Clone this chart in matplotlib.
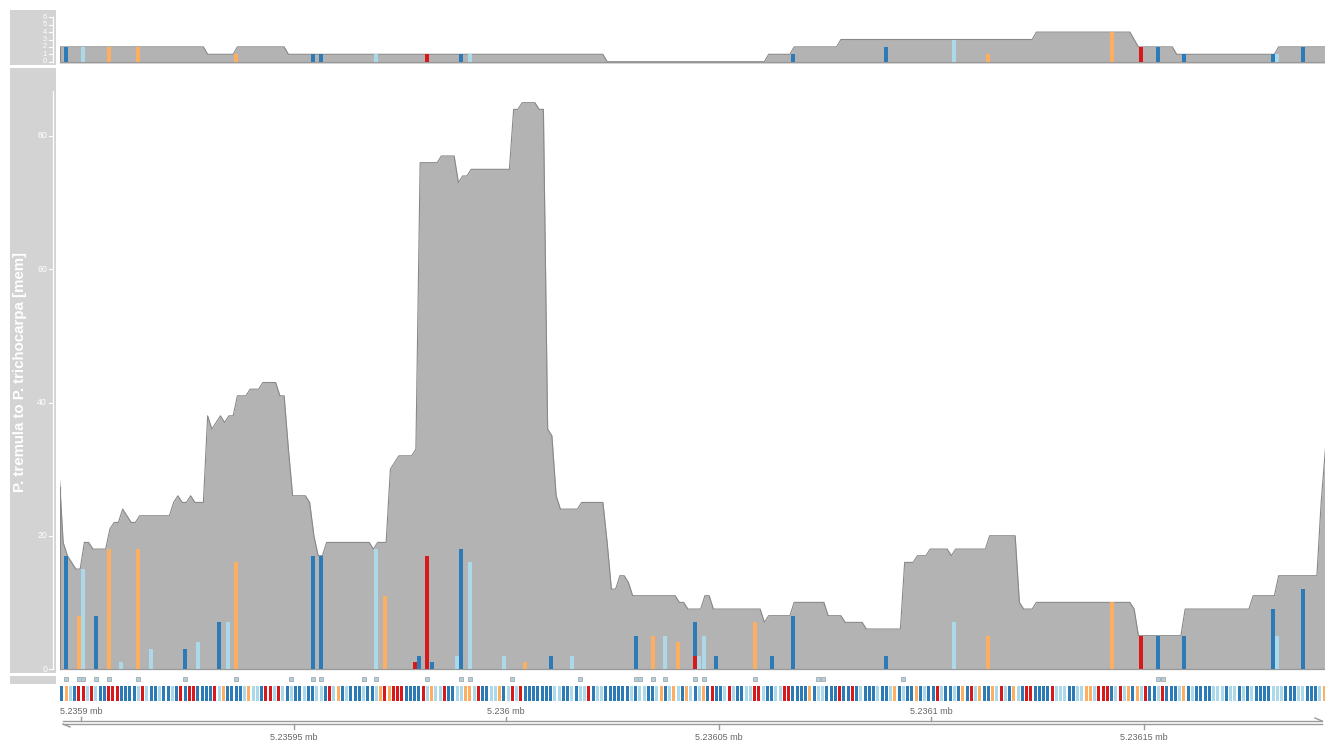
import numpy as np
import matplotlib
matplotlib.use("Agg")
import matplotlib.pyplot as plt
from matplotlib.patches import Rectangle
from matplotlib import transforms

plt.rcParams['font.family'] = ['Liberation Sans', 'DejaVu Sans']

# ---------------- data ----------------
region_start = 5235895          # first plotted base
n_bases = 298

# main coverage (P. tremula to P. trichocarpa), run-length: base offset where a value starts
main_cov_start = [-1, 0, 1, 2, 3, 5, 7, 11, 12, 14, 15, 16, 18, 26, 27, 28, 30, 31, 34, 35, 36, 37, 38, 39,
                  41, 44, 47, 51, 53, 54, 58, 59, 60, 62, 73, 74, 77, 78, 79, 83, 84, 89, 93, 94, 96, 106,
                  108, 112, 114, 115, 116, 117, 122, 128, 129, 131, 133, 134, 145, 147, 151, 153, 165, 166,
                  172, 180, 184, 189, 198, 201, 204, 209, 210, 218, 225, 226, 229, 252, 253, 264, 280, 286,
                  296, 297]
main_cov_value = [30, 19, 17, 16, 15, 19, 18, 21, 22, 24, 23, 22, 23, 25, 26, 25, 26, 25, 38, 36, 37, 38, 37, 38,
                  41, 42, 43, 41, 33, 26, 25, 20, 17, 19, 18, 19, 30, 31, 32, 33, 76, 77, 73, 74, 75, 84,
                  85, 84, 36, 35, 26, 24, 25, 19, 12, 14, 13, 11, 10, 9, 11, 9, 7, 8,
                  10, 8, 7, 6, 16, 17, 18, 17, 18, 20, 10, 9, 10, 9, 5, 9, 11, 14,
                  25, 33]

# top (small) coverage track
top_cov_start = [-1, 34, 41, 53, 128, 166, 172, 183, 229, 252, 253, 262, 286]
top_cov_value = [2, 1, 2, 1, 0, 1, 2, 3, 4, 3, 2, 1, 2]

# mismatching bases (offset, base, count in main track, count in top track)
mm_pos = [1, 4, 5, 8, 11, 14, 18, 21, 29, 32, 37, 39, 41, 59, 61, 74, 76, 83, 84, 86, 87, 93, 94, 96, 104,
          109, 115, 120, 135, 139, 142, 145, 149, 149, 150, 151, 154, 163, 167, 172, 194, 210, 218, 247, 254,
          258, 264, 285, 286, 292]
mm_base = "AGTAGTGTATATGAATGCACATATTGATAGTGCATTAGAAATGGCAAATA"
mm_main = [17, 8, 15, 8, 18, 1, 18, 3, 3, 4, 7, 7, 16, 17, 17, 18, 11, 1, 2, 17, 1, 2, 18, 16, 2,
           1, 2, 2, 5, 5, 5, 4, 2, 5, 2, 5, 2, 7, 2, 8, 2, 7, 5, 10, 5, 5, 5, 9, 5, 12]
mm_top = [2, 0, 2, 0, 2, 0, 2, 0, 0, 0, 0, 0, 1, 1, 1, 1, 0, 0, 0, 1, 0, 0, 1, 1, 0,
          0, 0, 0, 0, 0, 0, 0, 0, 0, 0, 0, 0, 0, 0, 1, 2, 3, 1, 4, 2, 2, 1, 1, 1, 2]

# reference sequence
ref_seq = ("AGTACCTCTAACCCAAAATCTAATAATACACCAAAACTGAAAATGTTACCTCTATAATAATTACTGATAAATAAT"
           "GCGCCCAAAACTGTTCAATTGGTCAATTGATCTCAAAAAAATTAATATTCATTAAAAAATATTAATGATGTAGT"
           "ATGACAATCTAATTCCTAATTCCAAAAGATTAAACAACATAAATAATGATAAGATAACTAATAGACTGAAGTCT"
           "AGTACCAAAACTTTAATTGGTCCCATCTGAGTCAATCAAATGATAAAATTTATTATATAAAATTTAAATTAAATG")

# collapsed read markers
square_pos = [1, 4, 5, 8, 11, 18, 29, 41, 54, 59, 61, 71, 74, 86, 94, 96, 106, 122, 135, 136, 139, 142,
              149, 151, 163, 178, 179, 198, 258, 259]

axis_major = [5235900, 5236000, 5236100]
axis_minor = [5235950, 5236050, 5236150]
main_ticks = [0, 20, 40, 60, 80]
top_ticks = [0, 1, 2, 3, 4, 5, 6]
ylabel = "P. tremula to P. trichocarpa [mem]"

base_colors = {'A': '#2c7bb6', 'T': '#abd9e9', 'G': '#fdae61', 'C': '#d7191c'}
fill_col = '#b3b3b3'
edge_col = '#888888'
title_bg = '#d3d3d3'

# ---------------- layout ----------------
W, H = 1325, 740
fig = plt.figure(figsize=(W / 100, H / 100), dpi=100)
px_per_bp = 4.25
left_px = 59.75
xlim = (region_start, region_start + (W - left_px) / px_per_bp)


def add_ax(top, bottom, left=left_px, right=W):
    a = fig.add_axes([left / W, 1 - bottom / H, (right - left) / W, (bottom - top) / H])
    a.set_facecolor('none')
    a.axis('off')
    a.set_xlim(*xlim)
    return a


def fig_rect(x0, y0, x1, y1, color):
    fig.patches.append(Rectangle((x0 / W, 1 - y1 / H), (x1 - x0) / W, (y1 - y0) / H,
                                 transform=fig.transFigure, facecolor=color, edgecolor='none', zorder=-5))


def expand(starts, values):
    offs = np.arange(-1, n_bases)
    idx = np.searchsorted(starts, offs, side='right') - 1
    return offs, np.asarray(values)[idx]


def draw_coverage(ax, starts, values, counts):
    offs, cov = expand(starts, values)
    xs = region_start + offs + 0.8
    ax.fill_between(xs, 0, cov, color=fill_col, lw=0, zorder=1)
    ax.plot(xs, cov, color=edge_col, lw=0.8, zorder=2)
    x0 = xlim[0] + 0.05
    ax.plot([x0, x0], [0, np.interp(x0, xs, cov)], color=edge_col, lw=0.8, zorder=2)
    ax.axhline(0, color='#999999', lw=0.9, zorder=2)
    bottoms = {}
    for p, b, c in zip(mm_pos, mm_base, counts):
        if c <= 0:
            continue
        bot = bottoms.get(p, 0)
        ax.bar(region_start + p + 0.5, c, bottom=bot, width=0.92, color=base_colors[b], lw=0, zorder=3)
        bottoms[p] = bot + c


def draw_yaxis(ax, ticks, top_val, fs):
    tr = transforms.blended_transform_factory(fig.transFigure, ax.transData)
    ax.plot([53.3 / W, 53.3 / W], [0, top_val], transform=tr, color='white', lw=0.9,
            clip_on=False, zorder=10)
    for v in ticks:
        ax.plot([49.3 / W, 53.3 / W], [v, v], transform=tr, color='white', lw=0.8, clip_on=False, zorder=10)
        ax.text(47.0 / W, v, str(v), transform=tr, ha='right', va='center', color='white',
                fontsize=fs, clip_on=False, zorder=10)


# title panels
fig_rect(10, 10, 55.7, 65, title_bg)
fig_rect(10, 68, 55.7, 673, title_bg)
fig_rect(10, 675.5, 55.7, 684, title_bg)

# top track
ax_top = add_ax(10, 65)
ax_top.set_ylim(-(65 - 61.7) / 7.4, (61.7 - 10) / 7.4)
draw_coverage(ax_top, top_cov_start, top_cov_value, mm_top)
ax_top.axhline(-0.22, color='#dcdcdc', lw=1.4, zorder=0)
draw_yaxis(ax_top, top_ticks, 6, 5.2)

# main track
ax_main = add_ax(68, 673)
unit = (669 - 136) / 80.0
ax_main.set_ylim(-(673 - 669) / unit, (669 - 68) / unit)
draw_coverage(ax_main, main_cov_start, main_cov_value, mm_main)
draw_yaxis(ax_main, main_ticks, 86.7, 6.3)
fig.text(20 / W, 1 - 372 / H, ylabel, rotation=90, ha='center', va='center', color='white',
         fontsize=10.8, fontweight='bold')

# lower part: read markers, sequence, genome axis (y in pixels)
ax_low = add_ax(673, 740)
ax_low.set_ylim(740, 673)
ax_low.axhline(671.2, color='#dddddd', lw=1.6)
for p in square_pos:
    ax_low.add_patch(Rectangle((region_start + p + 0.05, 676.8), 0.95, 4.6, facecolor='#a9d3e0',
                               edgecolor='#b0b0b0', lw=0.7))
seq_x = region_start + np.arange(len(ref_seq)) + 0.5
ax_low.bar(seq_x, 15.0, bottom=685.5, width=0.76, color=[base_colors[b] for b in ref_seq], lw=0)

axis_col = '#9a9a9a'
x_l = xlim[0] + 3.2 / px_per_bp
x_r = xlim[1] - 3.0 / px_per_bp
ax_low.plot([x_l, x_r], [721, 721], color=axis_col, lw=1.0)
ax_low.plot([x_r - 7 / px_per_bp, x_r], [718, 721], color=axis_col, lw=1.0)
ax_low.plot([x_l, x_r], [724, 724], color=axis_col, lw=1.0)
ax_low.plot([x_l, x_l + 7 / px_per_bp], [724, 727], color=axis_col, lw=1.0)
for t in axis_major:
    ax_low.plot([t, t], [716.5, 721], color=axis_col, lw=1.0)
    ax_low.text(t, 711, f"{t / 1e6:g} mb", ha='center', va='center', fontsize=6.5, color='#666666')
for t in axis_minor:
    ax_low.plot([t, t], [724, 729], color=axis_col, lw=1.0)
    ax_low.text(t, 737.5, f"{t / 1e6:g} mb", ha='center', va='center', fontsize=6.5, color='#666666',
                clip_on=False)

fig.savefig("out.png", dpi=100)
